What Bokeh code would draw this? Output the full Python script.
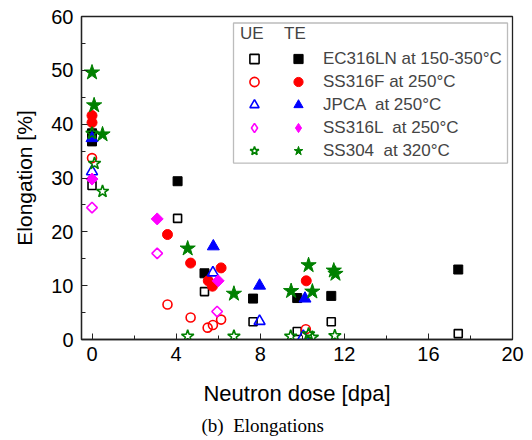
import math
from bokeh.plotting import figure
from bokeh.models import (Range1d, SingleIntervalTicker, Legend, LegendItem,
                          BoxAnnotation, Title, ColumnDataSource)
from bokeh.embed import file_html
from bokeh.resources import INLINE

# ---------------- data ----------------
# EC316LN at 150-350 C  (black squares)
ec_ue_x = [0.0, 4.07, 5.35, 7.66, 9.76, 11.38, 17.42]
ec_ue_y = [28.6, 22.5, 8.9, 3.3, 1.5, 3.3, 1.1]
ec_te_x = [0.0, 0.0, 4.07, 5.35, 7.66, 9.76, 11.38, 17.42]
ec_te_y = [38.3, 36.8, 29.4, 12.3, 7.6, 7.7, 8.1, 13.0]

# SS316F at 250 C  (red circles)
f_ue_x = [0.0, 3.59, 4.69, 5.50, 5.75, 6.14, 10.17]
f_ue_y = [33.7, 6.5, 4.1, 2.2, 2.7, 3.7, 1.9]
f_te_x = [0.0, 0.0, 3.59, 4.69, 5.53, 5.73, 6.14, 10.19]
f_te_y = [41.6, 40.3, 19.5, 14.2, 10.9, 9.9, 13.3, 10.9]

# JPCA at 250 C  (blue triangles)
j_ue_x = [0.0, 5.75, 7.97, 10.05]
j_ue_y = [31.2, 12.4, 3.4, 0.6]
j_te_x = [0.0, 5.77, 7.97, 10.13]
j_te_y = [37.4, 17.3, 10.0, 7.6]

# SS316L at 250 C  (magenta diamonds)
l_ue_x = [0.0, 3.10, 5.95]
l_ue_y = [24.5, 16.0, 5.2]
l_te_x = [0.0, 3.10, 6.00]
l_te_y = [29.8, 22.4, 10.9]

# SS304 at 320 C  (green stars)
s_ue_x = [0.0, 0.12, 0.50, 4.55, 6.75, 9.45, 10.30, 10.48, 11.55]
s_ue_y = [38.3, 32.7, 27.5, 0.6, 0.6, 0.6, 1.0, 0.4, 0.7]
s_te_x = [0.0, 0.10, 0.50, 4.55, 6.75, 9.47, 10.30, 10.48, 11.50, 11.58]
s_te_y = [49.6, 43.5, 38.1, 16.9, 8.5, 9.0, 13.8, 8.9, 12.8, 12.2]

labels = ["EC316LN at 150-350\u00b0C", "SS316F at 250\u00b0C",
          "JPCA \u00a0at 250\u00b0C", "SS316L \u00a0at 250\u00b0C",
          "SS304 \u00a0at 320\u00b0C"]

x_title = "Neutron dose [dpa]"
y_title = "Elongation [%]"
caption = "(b)\u00a0 Elongations"

# ---------------- layout constants ----------------
W, H = 532, 440
FL, FR, FT, FB = 81, 512, 16, 340          # frame edges in px
X0, X1, Y0, Y1 = -0.5, 20.0, 0.0, 60.0
FONT = "Liberation Sans"

def px_x(px):
    return X0 + (px - FL) / (FR - FL) * (X1 - X0)

def px_y(py):
    return Y1 - (py - FT) / (FB - FT) * (Y1 - Y0)

p = figure(width=W, height=H, output_backend="svg", toolbar_location=None,
           x_range=Range1d(X0, X1), y_range=Range1d(Y0, Y1),
           min_border_left=FL, min_border_right=W - FR,
           min_border_top=FT, min_border_bottom=H - FB)
p.grid.visible = False
p.background_fill_color = "white"
p.border_fill_color = "white"
p.outline_line_color = "#222222"
p.outline_line_width = 1.3

p.xaxis.ticker = SingleIntervalTicker(interval=4, num_minor_ticks=2)
p.yaxis.ticker = SingleIntervalTicker(interval=10, num_minor_ticks=2)
for ax in (p.xaxis, p.yaxis):
    ax.axis_line_color = "#222222"
    ax.axis_line_width = 1.3
    ax.major_tick_line_color = "#222222"
    ax.minor_tick_line_color = "#222222"
    ax.major_tick_in = 6
    ax.major_tick_out = 0
    ax.minor_tick_in = 4
    ax.minor_tick_out = 0
    ax.major_label_text_font = FONT
    ax.major_label_text_font_size = "20px"
    ax.major_label_text_color = "black"
    ax.axis_label_text_font = FONT
    ax.axis_label_text_font_style = "normal"
    ax.axis_label_text_color = "black"
p.xaxis.axis_label = x_title
p.yaxis.axis_label = y_title
p.xaxis.axis_label_text_font_size = "22px"
p.yaxis.axis_label_text_font_size = "21px"
p.xaxis.major_label_standoff = 7
p.yaxis.major_label_standoff = 8
p.xaxis.axis_label_standoff = 17
p.yaxis.axis_label_standoff = 12

# legend frame box
p.add_layout(BoxAnnotation(left=px_x(233), right=px_x(507), top=px_y(22.5), bottom=px_y(163),
                           fill_color="white", fill_alpha=1.0,
                           line_color="#222222", line_width=1.3))

series = [
    dict(ux=ec_ue_x, uy=ec_ue_y, tx=ec_te_x, ty=ec_te_y, color="black", marker="square",
         us=8, ts=9, angle=0.0),
    dict(ux=f_ue_x, uy=f_ue_y, tx=f_te_x, ty=f_te_y, color="#ff0000", marker="circle",
         us=9, ts=10, angle=0.0),
    dict(ux=j_ue_x, uy=j_ue_y, tx=j_te_x, ty=j_te_y, color="#0000ff", marker="triangle",
         us=11, ts=12, angle=0.0),
    dict(ux=l_ue_x, uy=l_ue_y, tx=l_te_x, ty=l_te_y, color="#ff00ff", marker="square",
         us=7.5, ts=8.5, angle=math.pi / 4),
    dict(ux=s_ue_x, uy=s_ue_y, tx=s_te_x, ty=s_te_y, color="#008000", marker="star",
         us=13, ts=16, angle=0.0),
]

ue_items, te_items = [], []
for i, s in enumerate(series):
    ru = p.scatter(s["ux"], s["uy"], marker=s["marker"], size=s["us"], angle=s["angle"],
                   fill_color=None, line_color=s["color"], line_width=1.6)
    rt = p.scatter(s["tx"], s["ty"], marker=s["marker"], size=s["ts"], angle=s["angle"],
                   fill_color=s["color"], line_color=s["color"], line_width=1)
    if s["angle"] != 0.0:
        # legend-only samples for the rotated-square diamonds (no visible data)
        blank = ColumnDataSource(data=dict(x=[float("nan")], y=[float("nan")]))
        ru = p.scatter("x", "y", source=blank, marker="diamond", size=10,
                       fill_color=None, line_color=s["color"], line_width=1.6)
        rt = p.scatter("x", "y", source=blank, marker="diamond", size=10,
                       fill_color=s["color"], line_color=s["color"], line_width=1)
    ue_items.append(LegendItem(label=" ", renderers=[ru]))
    te_items.append(LegendItem(label=labels[i], renderers=[rt]))

def make_legend(items, title, x_left, label_standoff):
    lg = Legend(items=items, title=title, location=(x_left - FL, FB - 163),
                padding=0, margin=0, spacing=0, glyph_width=28, glyph_height=23,
                label_height=23, label_width=0, label_standoff=label_standoff,
                label_text_font=FONT, label_text_font_size="17px",
                title_text_font=FONT, title_text_font_size="17px",
                title_text_font_style="normal", title_standoff=3,
                border_line_alpha=0, background_fill_alpha=0)
    return lg

p.add_layout(make_legend(ue_items, "UE", 240, 0))
p.add_layout(make_legend(te_items, "TE", 284, 11))

# figure caption below the axis title
p.add_layout(Title(text=caption, align="left", offset=201 - FL, text_font="Liberation Serif",
                   text_font_size="19px", text_font_style="normal", text_color="black",
                   standoff=9), "below")

open("out.html", "w").write(file_html(p, INLINE))
